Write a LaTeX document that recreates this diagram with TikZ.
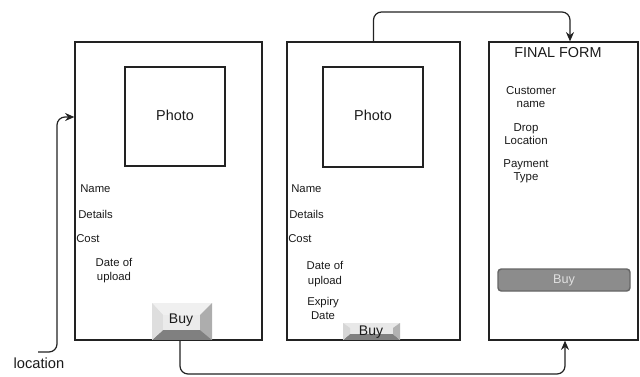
\documentclass[tikz,border=0pt]{standalone}
\usepackage{fontspec}
\setmainfont{Liberation Sans}
\usetikzlibrary{fit,arrows.meta,calc}
\definecolor{ink}{HTML}{1A1A1A}
\definecolor{lineC}{HTML}{222222}
\begin{document}
\begin{tikzpicture}[x=0.75pt,y=-0.75pt,
  frame/.style={draw=lineC,line width=0.9pt,inner sep=0pt},
  lbl/.style={text=ink,font=\fontsize{8.5}{11}\selectfont,inner sep=0pt},
  lblc/.style={text=ink,font=\fontsize{8.6}{9.8}\selectfont,inner sep=0pt,align=center},
  big/.style={text=ink,font=\fontsize{10.8}{12}\selectfont,inner sep=0pt},
  conn/.style={draw=lineC,line width=0.9pt,rounded corners=6pt,-{Stealth[length=7pt,width=6pt]}}]
\useasboundingbox (0,0) rectangle (640,376);
% frames
\node[frame,fit={(75,42)(262,340)}] (f1) {};
\node[frame,fit={(287,42)(460,340)}] (f2) {};
\node[frame,fit={(489,42)(638,340)}] (f3) {};
% photos
\node[frame,fit={(125,67)(225,166)}] (p1) {};
\node[frame,fit={(323,67)(423,167)}] (p2) {};
\node[big] (pt1) at (175,115) {Photo};
\node[big] (pt2) at (373,115) {Photo};
% frame 1 labels
\node[lbl,anchor=west] (n1) at (80,189) {Name};
\node[lbl,anchor=west] (d1) at (78,214) {Details};
\node[lbl,anchor=west] (c1) at (76,239) {Cost};
\node[lblc,font=\fontsize{8.5}{11}\selectfont] (u1) at (114,270.5) {Date of\\upload};
% frame 2 labels
\node[lbl,anchor=west] (n2) at (291,189) {Name};
\node[lbl,anchor=west] (d2) at (289,214) {Details};
\node[lbl,anchor=west] (c2) at (288,239) {Cost};
\node[lblc,font=\fontsize{8.5}{11}\selectfont] (u2) at (325,274) {Date of\\upload};
\node[lblc,font=\fontsize{8.5}{10}\selectfont] (e2) at (323,308.5) {Expiry\\Date};
% frame 3 labels
\node[big] (ff) at (558,53) {FINAL FORM};
\node[lblc] (cn) at (531,97) {Customer\\name};
\node[lblc] (dl) at (526,134) {Drop\\Location};
\node[lblc] (py) at (526,171.5) {Payment\\Type};
% buy button 1 (3D)
\node[inner sep=0pt,fit={(152,303)(212,340)}] (b1) {};
\fill[black!10] (152,303) rectangle (212,340);
\fill[black!6] (152,303) -- (212,303) -- (200,315) -- (163,315) -- cycle;
\fill[black!32] (212,303) -- (212,340) -- (200,330) -- (200,315) -- cycle;
\fill[black!50] (152,340) -- (212,340) -- (200,330) -- (163,330) -- cycle;
\fill[black!13] (152,303) -- (152,340) -- (163,330) -- (163,315) -- cycle;
\fill[black!8] (163,315) rectangle (200,330);
\node[big,font=\fontsize{10.5}{12}\selectfont] (bt1) at (181,320) {Buy};
% buy button 2 (3D, short)
\node[inner sep=0pt,fit={(343,323)(400,340)}] (b2) {};
\fill[black!9] (343,323) rectangle (400,340);
\fill[black!50] (343,340) -- (400,340) -- (393,334) -- (350,334) -- cycle;
\fill[black!30] (400,323) -- (400,340) -- (393,334) -- (393,328) -- cycle;
\fill[black!16] (343,323) -- (343,340) -- (350,334) -- (350,328) -- cycle;
\node[big,font=\fontsize{10.5}{12}\selectfont] (bt2) at (371,332) {Buy};
% redraw frame bottoms over buttons
\draw[lineC,line width=0.9pt] (f1.south west) -- (f1.south east);
\draw[lineC,line width=0.9pt] (f2.south west) -- (f2.south east);
% buy button 3
\node[draw=black!60,fill=black!45,line width=1.1pt,rounded corners=2.5pt,inner sep=0pt,
      fit={(498,269)(630,291)}] (b3) {};
\node[text=black!12,font=\fontsize{9.5}{11}\selectfont,inner sep=0pt] (bt3) at (564,280) {Buy};
% location label
\node[text=ink,font=\fontsize{11}{12}\selectfont,inner sep=0pt] (loc) at (39,363) {location};
% connectors
\coordinate (t1) at (570,12);
\draw[conn] (f2.north) |- (t1) -- (t1 |- f3.north);
\coordinate (t2) at (565,374);
\draw[conn] (b1.south -| 180,0) |- (t2) -- (t2 |- f3.south);
\coordinate (l0) at (38,352);
\coordinate (l1) at (57,117);
\draw[conn] (l0) -| (l1) -- (l1 -| f1.west);
\end{tikzpicture}
\end{document}
